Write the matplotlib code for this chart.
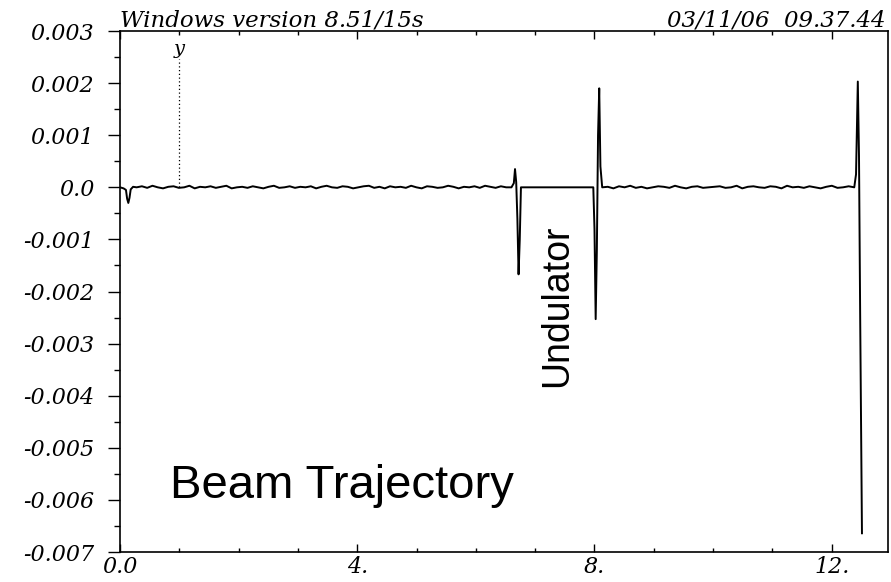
import numpy as np
import matplotlib
matplotlib.use('Agg')
import matplotlib.pyplot as plt
from matplotlib.ticker import MultipleLocator, FixedLocator

# orbit near the injection and around the undulator (position s, offset y)
s_inj = [0.0, 0.06, 0.10, 0.12, 0.14, 0.16, 0.18, 0.22, 0.28]
y_inj = [0.0, -0.00002, -0.00005, -0.00022, -0.00030, -0.00020, -0.00004, 0.00001, 0.0]

# small residual wiggle along the straight sections (units of 1e-5)
wig1 = [2, -1, 3, 0, -2, 1, 2, -1, 0, 3, -2, 1, 0, 2, -1, 1, 3, -2, 0, 1,
        -1, 2, 0, -2, 1, 3, -1, 0, 2, -1, 1, 0, 2, -2, 1, 3, 0, -1, 2, 1,
        -2, 0, 2, 3, -1, 1, -2, 2, 0, 1, -1, 3, 0, -2, 2, 1, -1, 0, 3, 1,
        -2, 1, 0, 2, -1, 3, 1, -1, 2, 0]
wig2 = [1, -2, 2, 0, 3, -1, 1, -2, 0, 2, 1, -1, 3, 0, -2, 1, 2, -1, 0, 1,
        2, -1, 0, 3, -2, 1, 2, 0, -1, 2, 1, -2, 3, 0, 1, -1, 2, 0, -2, 1,
        3, -1, 0, 2]

s_und = [6.60, 6.64, 6.66, 6.68, 6.70, 6.72, 6.74, 6.76, 7.98, 8.00, 8.02,
         8.04, 8.06, 8.08, 8.10, 8.13]
y_und = [0.0, 0.00008, 0.00035, 0.00010, -0.00060, -0.00167, -0.00100, 0.0,
         0.0, -0.00080, -0.00253, -0.00120, 0.00100, 0.00190, 0.00040, 0.0]

s_end = [12.38, 12.41, 12.43, 12.44, 12.46, 12.48, 12.50, 12.51]
y_end = [0.0, 0.00025, 0.00150, 0.00203, 0.00060, -0.00250, -0.00520, -0.00664]

s1 = np.linspace(s_inj[-1], s_und[0], len(wig1) + 2)[1:-1]
s2 = np.linspace(s_und[-1], s_end[0], len(wig2) + 2)[1:-1]

s = np.concatenate([s_inj, s1, s_und, s2, s_end])
y = np.concatenate([y_inj, np.array(wig1) * 1e-5, y_und,
                    np.array(wig2) * 1e-5, y_end])

serif = {'family': 'DejaVu Serif', 'style': 'italic'}

fig = plt.figure(figsize=(8.91, 5.82), dpi=100)
ax = fig.add_axes([0.1347, 0.0515, 0.862, 0.8952])

ax.plot(s, y, color='black', lw=1.4)
ax.plot([1.0, 1.0], [0.0, 0.00246], color='black', lw=0.9, ls=(0, (1, 2)))
ax.text(1.0, 0.00248, 'y', ha='center', va='bottom', fontsize=14, **serif)

ax.set_xlim(0, 12.95)
ax.set_ylim(-0.007, 0.003)

ax.yaxis.set_minor_locator(MultipleLocator(0.0005))
ax.xaxis.set_major_locator(FixedLocator([0, 4, 8, 12]))
ax.xaxis.set_minor_locator(FixedLocator([1, 2, 3, 5, 6, 7, 9, 10, 11]))

ylabels = ['-0.007', '-0.006', '-0.005', '-0.004', '-0.003', '-0.002',
           '-0.001', '0.0', '0.001', '0.002', '0.003']
ax.set_yticks(np.linspace(-0.007, 0.003, 11))
ax.set_yticklabels(ylabels, fontdict=serif, fontsize=16)
ax.set_xticklabels(['0.0', '4.', '8.', '12.'], fontdict=serif, fontsize=16)

ax.tick_params(axis='y', which='major', direction='out', length=8.5, width=1,
               pad=10)
ax.tick_params(axis='y', which='minor', direction='out', length=4, width=1)
ax.tick_params(axis='x', which='both', direction='in', top=True,
               length=6, width=1, pad=3)
ax.tick_params(axis='x', which='minor', length=3)
for sp in ax.spines.values():
    sp.set_linewidth(1.2)

fig.text(0.135, 0.955, 'Windows version 8.51/15s', fontsize=16.5, **serif)
fig.text(0.994, 0.955, '03/11/06  09.37.44', ha='right', fontsize=16.5, **serif)

ax.text(0.85, -0.00597, 'Beam Trajectory', fontsize=34,
        family='Liberation Sans', va='baseline')
ax.text(7.37, -0.00228, 'Undulator', fontsize=27, family='Liberation Sans',
        rotation=90, ha='center', va='center')

fig.savefig('out.png', dpi=100)
